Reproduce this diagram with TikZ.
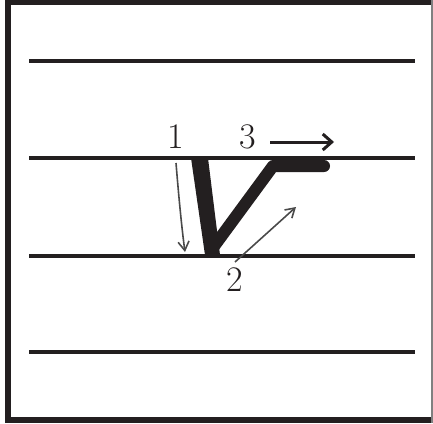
\documentclass[tikz,border=0pt]{standalone}
\usetikzlibrary{arrows.meta}
\definecolor{ink}{HTML}{231F20}
\definecolor{pencil}{HTML}{4A4A4A}
\begin{document}
\begin{tikzpicture}[x=1pt,y=-1pt,
  guide/.style={line width=3.5pt,draw=ink},
  hint/.style={draw=pencil,line width=1.6pt,-{Straight Barb[length=9pt,width=11pt]}},
  digit/.style={font=\fontsize{36}{36}\selectfont,text=ink,inner sep=0pt}]
\useasboundingbox (0,0) rectangle (433,423);
\fill[white] (0,0) rectangle (433,423);
% frame
\fill[ink] (5,0) rectangle (11,423);
\fill[ink] (5,0) rectangle (433,5);
\fill[ink] (5,417) rectangle (433,423);
\draw[gray,line width=1.5pt] (432,0) -- (432,423);
% guide lines
\draw[guide] (29,61) -- (415,61);
\draw[guide] (29,158) -- (415,158);
\draw[guide] (29,256) -- (415,256);
\draw[guide] (29,352) -- (415,352);
% letter strokes
\fill[ink] (191,158) -- (208,158) -- (220,255) -- (205,255) -- cycle;
\draw[ink,line width=12pt,line join=round,line cap=round]
  (212,249) -- (273,166) -- (324,166);
% labels
\node[digit] (n1) at (176,137) {1};
\node[digit] (n3) at (248,137) {3};
\node[digit] (n2) at (235,280) {2};
% arrows
\coordinate (a1s) at (176,163);
\coordinate (a1e) at (185,252);
\draw[hint] (a1s) .. controls (179,200) and (182,230) .. (a1e);
\coordinate (a2s) at (235,262);
\coordinate (a2e) at (296,207);
\draw[hint] (a2s) -- (a2e);
\coordinate (a3s) at (270,142);
\coordinate (a3e) at (334,142);
\draw[ink,line width=3pt,-{Straight Barb[length=9pt,width=16pt]}] (a3s) -- (a3e);
\end{tikzpicture}
\end{document}
